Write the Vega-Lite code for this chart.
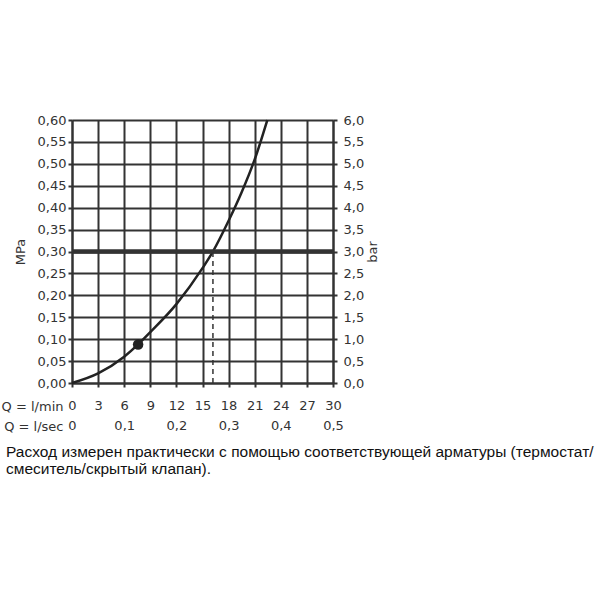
{
  "$schema": "https://vega.github.io/schema/vega-lite/v6.json",
  "width": 261,
  "height": 263,
  "padding": {"left": 1, "top": 114, "right": 5, "bottom": 5},
  "background": "white",
  "config": {
    "view": {"stroke": null},
    "axis": {"labelFont": "DejaVu Sans", "labelFontSize": 13, "labelColor": "#333", "titleFont": "DejaVu Sans", "titleFontSize": 13, "titleFontWeight": "normal", "titleColor": "#333", "domainColor": "#333", "tickColor": "#333", "gridColor": "#333", "gridOpacity": 1}
  },
  "title": {
    "text": ["Расход измерен практически с помощью соответствующей арматуры (термостат/", "смеситель/скрытый клапан)."],
    "orient": "bottom",
    "anchor": "start",
    "frame": "group",
    "dx": -66,
    "offset": 12,
    "font": "Liberation Sans",
    "fontSize": 15.5,
    "fontWeight": "normal",
    "color": "#111",
    "lineHeight": 17
  },
  "resolve": {"axis": {"x": "independent", "y": "independent"}},
  "layer": [
    {
      "data": {"values": [
        {"q": 0, "p": 0}, {"q": 3, "p": 0.022}, {"q": 6, "p": 0.06},
        {"q": 7.6, "p": 0.088}, {"q": 9, "p": 0.116}, {"q": 12, "p": 0.18},
        {"q": 15, "p": 0.262}, {"q": 16.2, "p": 0.3}, {"q": 18, "p": 0.37},
        {"q": 19.5, "p": 0.435}, {"q": 21, "p": 0.51}, {"q": 22.45, "p": 0.6}
      ]},
      "mark": {"type": "line", "interpolate": "monotone", "color": "#222", "strokeWidth": 2.5},
      "encoding": {
        "x": {"field": "q", "type": "quantitative",
          "scale": {"domain": [0, 30], "nice": false, "zero": false},
          "axis": {"values": [0, 3, 6, 9, 12, 15, 18, 21, 24, 27, 30], "grid": true, "gridWidth": 2, "domainWidth": 2, "tickSize": 4, "tickWidth": 2, "labelPadding": 12, "labelDx": 3, "labelFlush": false, "title": "Q = l/min", "titleAnchor": null, "titleAlign": "right", "titleBaseline": "middle", "titleX": -9, "titleY": 23}},
        "y": {"field": "p", "type": "quantitative",
          "scale": {"domain": [0, 0.6], "nice": false, "zero": false},
          "axis": {"values": [0, 0.05, 0.1, 0.15, 0.2, 0.25, 0.3, 0.35, 0.4, 0.45, 0.5, 0.55, 0.6], "grid": true, "gridWidth": 2, "domainWidth": 2, "tickSize": 4, "tickWidth": 2, "labelPadding": 2, "labelFlush": false, "labelExpr": "replace(format(datum.value, '.2f'), '.', ',')", "title": "MPa", "titlePadding": 10}}
      }
    },
    {
      "data": {"values": [{"p": 0.3}]},
      "mark": {"type": "rule", "color": "#333", "strokeWidth": 4.5},
      "encoding": {"y": {"field": "p", "type": "quantitative", "axis": null}}
    },
    {
      "data": {"values": [{"q": 16.2, "p0": 0, "p1": 0.3}]},
      "mark": {"type": "rule", "color": "#333", "strokeWidth": 1.5, "strokeDash": [5, 4]},
      "encoding": {
        "x": {"field": "q", "type": "quantitative", "axis": null},
        "y": {"field": "p0", "type": "quantitative", "axis": null},
        "y2": {"field": "p1"}
      }
    },
    {
      "data": {"values": [{"q": 7.6, "p": 0.088}]},
      "mark": {"type": "point", "filled": true, "color": "#222", "opacity": 1, "size": 110},
      "encoding": {
        "x": {"field": "q", "type": "quantitative",
          "axis": {"orient": "bottom", "values": [0, 6, 12, 18, 24, 30], "grid": false, "domain": false, "ticks": false, "labelPadding": 36, "labelDx": 3, "labelFlush": false, "labelExpr": "datum.value == 0 ? '0' : replace(format(datum.value / 60, '.1f'), '.', ',')", "title": "Q = l/sec", "titleAnchor": null, "titleAlign": "right", "titleBaseline": "middle", "titleX": -9, "titleY": 43}},
        "y": {"field": "p", "type": "quantitative",
          "axis": {"orient": "right", "values": [0, 0.05, 0.1, 0.15, 0.2, 0.25, 0.3, 0.35, 0.4, 0.45, 0.5, 0.55, 0.6], "grid": false, "domainWidth": 2, "tickSize": 4, "tickWidth": 2, "labelPadding": 6, "labelFlush": false, "labelExpr": "replace(format(datum.value * 10, '.1f'), '.', ',')", "title": "bar", "titleAngle": -90, "titlePadding": 16}}
      }
    }
  ]
}
